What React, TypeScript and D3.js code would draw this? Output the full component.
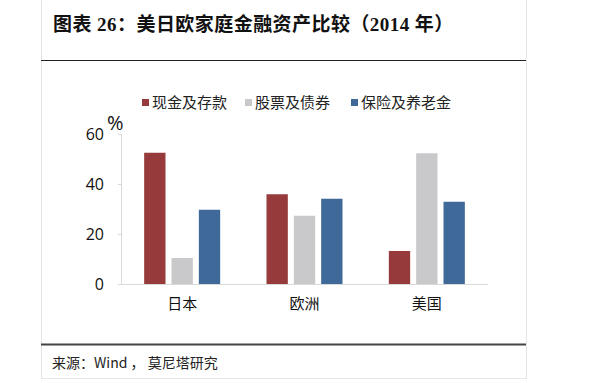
import React from "react";
import * as d3 from "d3";

const categories = ["日本", "欧洲", "美国"];
const series = ["现金及存款", "股票及债券", "保险及养老金"];
const cashDeposits = [52.5, 35.9, 13.2];
const stocksBonds = [10.4, 27.3, 52.3];
const insurancePension = [29.7, 34.1, 32.9];
const yTicks = [0, 20, 40, 60];
const colors = ["#963a3b", "#c9c8cb", "#3e6999"];
const title = "图表 26：美日欧家庭金融资产比较（2014 年）";
const source = "来源：Wind ， 莫尼塔研究";

export default function App() {
  const W = 590, H = 383;
  const values = [cashDeposits, stocksBonds, insurancePension];
  const x = d3.scaleBand<string>().domain(categories).range([121, 488]).padding(0);
  const bw = x.bandwidth();
  const groupW = 76;
  const xi = d3
    .scaleBand<string>()
    .domain(series)
    .range([bw / 2 - groupW / 2, bw / 2 + groupW / 2])
    .paddingInner(0.22)
    .paddingOuter(0);
  const y = d3.scaleLinear().domain([0, 60]).range([284, 134]);
  const cjk = "'Noto Sans CJK SC', 'Noto Sans', sans-serif";
  const tickFont = "'Open Sans', 'Noto Sans', sans-serif";
  const legendX = [142, 245, 351];

  return (
    <svg width={W} height={H} style={{ position: "absolute", left: 0, top: 0, background: "#fff" }}>
      {/* frame */}
      <line x1={41.5} x2={41.5} y1={0} y2={378} stroke="#e6e6e6" />
      <line x1={526.5} x2={526.5} y1={0} y2={378} stroke="#e6e6e6" />
      <line x1={41} x2={527} y1={378.5} y2={378.5} stroke="#e6e6e6" />
      <line x1={41} x2={526} y1={60.5} y2={60.5} stroke="#222" strokeWidth={1.2} />
      <line x1={41} x2={526} y1={344.5} y2={344.5} stroke="#444" strokeWidth={2} />

      <text
        x={53}
        y={31}
        fontSize={19}
        letterSpacing={0.45}
        fontWeight="bold"
        fontFamily="'Liberation Serif', 'Noto Sans CJK SC', serif"
        fill="#111"
      >
        {title}
      </text>

      {/* legend */}
      {series.map((s, i) => (
        <g key={s}>
          <rect x={legendX[i]} y={99} width={7} height={7} fill={colors[i]} />
          <text x={legendX[i] + 10} y={108} fontSize={15} fontFamily={cjk} fill="#222">
            {s}
          </text>
        </g>
      ))}

      {/* y axis */}
      <line x1={121.5} x2={121.5} y1={y(60)} y2={y(0)} stroke="#d9d9d9" />
      {yTicks.map((t) => (
        <g key={t}>
          <line x1={118} x2={121} y1={y(t) + 0.5} y2={y(t) + 0.5} stroke="#d9d9d9" />
          <text
            x={104}
            y={y(t)}
            dy="0.35em"
            textAnchor="end"
            fontSize={16}
            fontFamily={tickFont}
            fill="#111"
          >
            {t}
          </text>
        </g>
      ))}
      <text x={107} y={130} fontSize={20} fontFamily={tickFont} fill="#111">
        %
      </text>

      {/* bars */}
      {categories.map((c, ci) => (
        <g key={c} transform={`translate(${x(c)},0)`}>
          {series.map((s, si) => (
            <rect
              key={s}
              x={xi(s)}
              y={y(values[si][ci])}
              width={xi.bandwidth()}
              height={y(0) - y(values[si][ci])}
              fill={colors[si]}
            />
          ))}
        </g>
      ))}

      {/* x axis */}
      <line x1={121} x2={488} y1={284.5} y2={284.5} stroke="#d9d9d9" />
      {categories.map((c) => (
        <text
          key={c}
          x={(x(c) as number) + bw / 2}
          y={309}
          textAnchor="middle"
          fontSize={15}
          fontFamily={cjk}
          fill="#111"
        >
          {c}
        </text>
      ))}

      <text x={52} y={368} fontSize={14} fontFamily={cjk} fill="#222">
        {source}
      </text>
    </svg>
  );
}
